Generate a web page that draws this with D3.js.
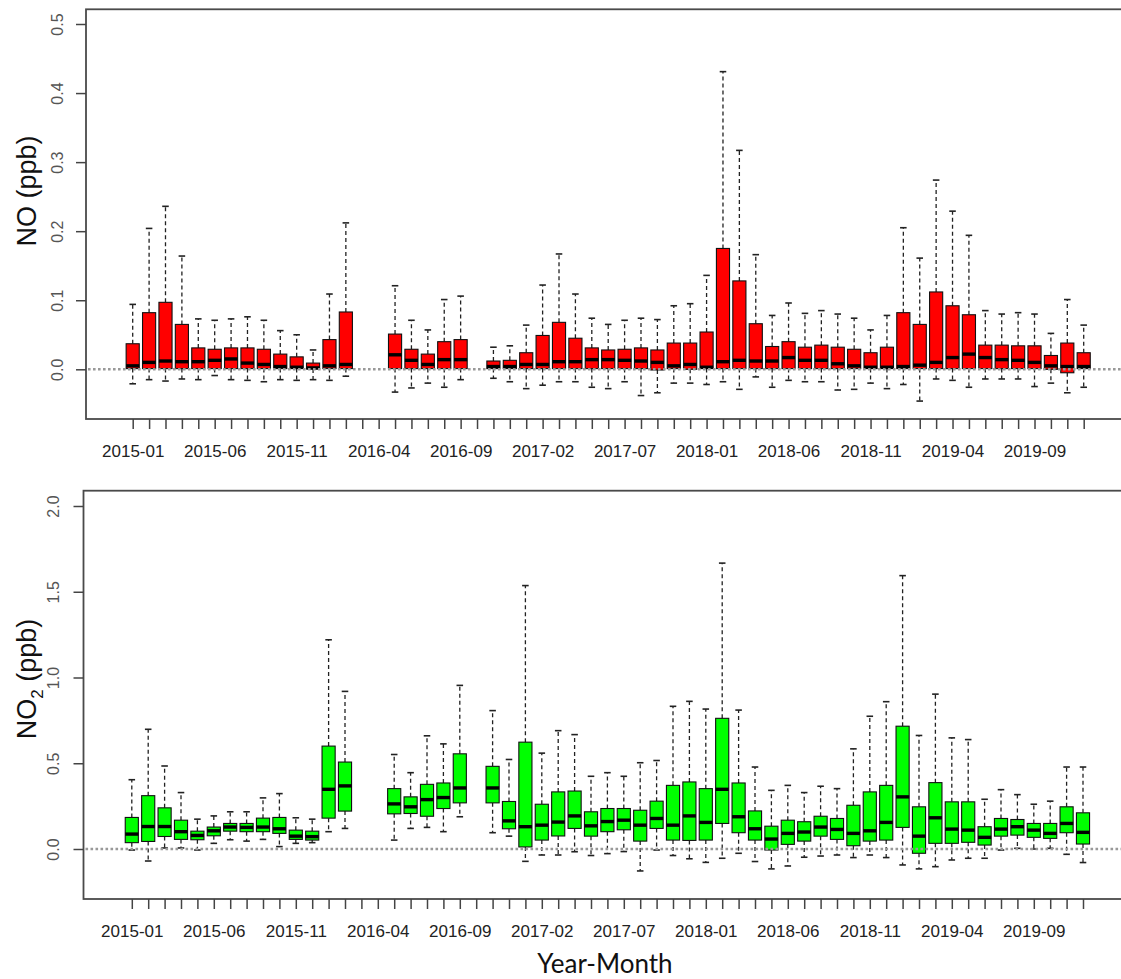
<!DOCTYPE html>
<html>
<head>
<meta charset="utf-8">
<script src="https://cdn.jsdelivr.net/npm/d3@7"></script>
<style>
  body { margin: 0; background: #fff; }
  svg { display: block; }
</style>
</head>
<body>
<div id="chart"></div>
<script>
// months on the x axis (2017-12 has no slot in the original)
const months = [
  '2015-01','2015-02','2015-03','2015-04','2015-05','2015-06','2015-07','2015-08','2015-09','2015-10','2015-11','2015-12',
  '2016-01','2016-02','2016-03','2016-04','2016-05','2016-06','2016-07','2016-08','2016-09','2016-10','2016-11','2016-12',
  '2017-01','2017-02','2017-03','2017-04','2017-05','2017-06','2017-07','2017-08','2017-09','2017-10','2017-11',
  '2018-01','2018-02','2018-03','2018-04','2018-05','2018-06','2018-07','2018-08','2018-09','2018-10','2018-11','2018-12',
  '2019-01','2019-02','2019-03','2019-04','2019-05','2019-06','2019-07','2019-08','2019-09','2019-10','2019-11','2019-12'
];
const labelEvery = 5;

// NO (ppb) box statistics, null = no data that month
const noMax = [0.094,0.204,0.236,0.164,0.073,0.071,0.073,0.076,0.071,0.056,0.050,0.028,0.109,0.212,null,null,0.121,0.071,0.057,0.101,0.106,null,0.032,0.034,0.064,0.122,0.167,0.109,0.074,0.065,0.071,0.074,0.072,0.092,0.095,0.136,0.431,0.317,0.166,0.078,0.096,0.081,0.085,0.080,0.074,0.057,0.078,0.205,0.161,0.274,0.229,0.194,0.085,0.080,0.082,0.080,0.052,0.101,0.064];
const noQ3  = [0.037,0.082,0.097,0.065,0.031,0.029,0.031,0.031,0.029,0.022,0.018,0.009,0.043,0.083,null,null,0.051,0.029,0.022,0.040,0.043,null,0.012,0.013,0.024,0.049,0.068,0.045,0.031,0.028,0.029,0.031,0.028,0.038,0.038,0.054,0.175,0.128,0.066,0.033,0.040,0.032,0.035,0.032,0.029,0.024,0.032,0.082,0.065,0.112,0.092,0.079,0.035,0.035,0.034,0.034,0.020,0.038,0.024];
const noMed = [0.005,0.010,0.012,0.011,0.011,0.013,0.015,0.009,0.007,0.004,0.003,0.002,0.005,0.007,null,null,0.021,0.013,0.007,0.014,0.014,null,0.004,0.004,0.007,0.007,0.011,0.011,0.014,0.014,0.013,0.012,0.010,0.005,0.007,0.003,0.011,0.013,0.012,0.012,0.017,0.013,0.013,0.008,0.005,0.003,0.003,0.004,0.006,0.010,0.017,0.022,0.017,0.014,0.013,0.010,0.005,0.004,0.004];
const noQ1  = [0.001,0.001,0.001,0.001,0.001,0.001,0.001,0.001,0.001,0.001,0.001,0.0005,0.001,0.001,null,null,0.001,0.001,0.001,0.001,0.001,null,0.001,0.001,0.001,0.001,0.001,0.001,0.001,0.001,0.001,0.001,-0.001,0.001,0.000,0.001,0.001,0.001,0.001,0.001,0.001,0.001,0.001,0.001,0.001,0.001,0.001,0.001,0.001,0.001,0.001,0.001,0.001,0.001,0.001,0.001,0.000,-0.005,0.001];
const noMin = [-0.021,-0.015,-0.017,-0.014,-0.015,-0.009,-0.015,-0.016,-0.018,-0.015,-0.016,-0.015,-0.016,-0.010,null,null,-0.033,-0.027,-0.020,-0.026,-0.015,null,-0.013,-0.018,-0.028,-0.023,-0.018,-0.018,-0.026,-0.028,-0.018,-0.038,-0.034,-0.020,-0.020,-0.022,-0.018,-0.029,-0.011,-0.026,-0.016,-0.018,-0.018,-0.030,-0.029,-0.020,-0.028,-0.022,-0.046,-0.014,-0.016,-0.026,-0.014,-0.014,-0.014,-0.025,-0.020,-0.034,-0.026];

// NO2 (ppb) box statistics
const no2Max = [0.404,0.698,0.484,0.329,0.174,0.193,0.217,0.217,0.298,0.323,0.182,0.174,1.220,0.919,null,null,0.551,0.445,0.660,0.613,0.954,null,0.807,0.522,1.536,0.559,0.690,0.667,0.424,0.445,0.424,0.503,0.516,0.832,0.861,0.816,1.667,0.810,0.478,0.342,0.371,0.329,0.366,0.352,0.584,0.774,0.859,1.594,0.662,0.903,0.648,0.638,0.290,0.346,0.317,0.261,0.279,0.478,0.478];
const no2Q3  = [0.184,0.311,0.240,0.168,0.104,0.128,0.149,0.149,0.180,0.184,0.110,0.104,0.600,0.507,null,null,0.352,0.304,0.377,0.385,0.555,null,0.482,0.277,0.623,0.261,0.333,0.338,0.217,0.236,0.236,0.226,0.279,0.371,0.391,0.352,0.762,0.385,0.222,0.133,0.168,0.159,0.191,0.178,0.255,0.333,0.371,0.716,0.246,0.387,0.275,0.275,0.130,0.178,0.172,0.149,0.149,0.246,0.211];
const no2Med = [0.087,0.131,0.131,0.101,0.079,0.106,0.128,0.126,0.128,0.118,0.075,0.072,0.348,0.368,null,null,0.263,0.246,0.288,0.300,0.356,null,0.356,0.164,0.130,0.139,0.157,0.193,0.135,0.160,0.168,0.139,0.178,0.139,0.193,0.155,0.348,0.188,0.118,0.058,0.091,0.099,0.128,0.114,0.091,0.106,0.155,0.304,0.075,0.182,0.116,0.110,0.068,0.116,0.130,0.110,0.091,0.149,0.097];
const no2Q1  = [0.037,0.044,0.073,0.056,0.054,0.077,0.104,0.101,0.101,0.091,0.056,0.052,0.180,0.221,null,null,0.205,0.207,0.191,0.236,0.269,null,0.269,0.118,0.012,0.052,0.076,0.120,0.075,0.101,0.112,0.046,0.120,0.052,0.050,0.052,0.149,0.095,0.052,-0.006,0.027,0.046,0.075,0.056,0.019,0.046,0.052,0.126,-0.025,0.033,0.033,0.039,0.023,0.075,0.081,0.068,0.062,0.095,0.029];
const no2Min = [-0.006,-0.070,0.006,0.006,-0.006,0.033,0.054,0.046,0.056,0.014,0.033,0.037,0.101,0.120,null,null,0.052,0.120,0.126,0.101,0.188,null,0.095,0.075,-0.072,-0.035,-0.035,-0.016,-0.038,-0.027,-0.015,-0.128,-0.006,-0.038,-0.057,-0.078,-0.054,-0.025,-0.073,-0.116,-0.099,-0.048,-0.041,-0.035,-0.050,-0.035,-0.050,-0.093,-0.116,-0.103,-0.064,-0.054,-0.054,-0.006,0.004,0.000,0.004,-0.031,-0.079];

const noTicks = [0, 0.1, 0.2, 0.3, 0.4, 0.5];
const no2Ticks = [0, 0.5, 1.0, 1.5, 2.0];

const W = 1121, H = 979;
const svg = d3.select('#chart').append('svg')
  .attr('width', W)
  .attr('height', H);

function drawPanel(p) {
  const g = svg.append('g');
  const x = d3.scalePoint().domain(months).range(p.xRange);
  const y = d3.scaleLinear().domain(p.yDomain).range(p.yRange);
  const boxW = x.step() * 0.8;
  const capW = boxW * 0.5;

  const rows = months.map((m, i) => ({
    m, lo: p.min[i], q1: p.q1[i], med: p.med[i], q3: p.q3[i], hi: p.max[i]
  })).filter(d => d.med !== null);

  // plot frame
  g.append('rect')
    .attr('x', p.frame.left)
    .attr('y', p.frame.top)
    .attr('width', p.frame.right - p.frame.left)
    .attr('height', p.frame.bottom - p.frame.top)
    .attr('fill', 'none')
    .attr('stroke', '#4a4a4a')
    .attr('stroke-width', 1.8);

  const boxes = g.selectAll('.box')
    .data(rows)
    .join('g')
    .attr('class', 'box')
    .attr('transform', d => `translate(${x(d.m)},0)`);

  // whiskers
  boxes.append('line')
    .attr('y1', d => y(d.q3)).attr('y2', d => y(d.hi))
    .attr('stroke', '#222').attr('stroke-width', 1.3)
    .attr('stroke-dasharray', '4,3');
  boxes.append('line')
    .attr('y1', d => y(d.q1)).attr('y2', d => y(d.lo))
    .attr('stroke', '#222').attr('stroke-width', 1.3)
    .attr('stroke-dasharray', '4,3');

  // caps
  boxes.append('line')
    .attr('x1', -capW / 2).attr('x2', capW / 2)
    .attr('y1', d => y(d.hi)).attr('y2', d => y(d.hi))
    .attr('stroke', '#222').attr('stroke-width', 1.6);
  boxes.append('line')
    .attr('x1', -capW / 2).attr('x2', capW / 2)
    .attr('y1', d => y(d.lo)).attr('y2', d => y(d.lo))
    .attr('stroke', '#222').attr('stroke-width', 1.6);

  // box
  boxes.append('rect')
    .attr('x', -boxW / 2)
    .attr('width', boxW)
    .attr('y', d => y(d.q3))
    .attr('height', d => Math.max(1, y(d.q1) - y(d.q3)))
    .attr('fill', p.fill)
    .attr('stroke', '#111')
    .attr('stroke-width', 1.1);

  // median
  boxes.append('line')
    .attr('x1', -boxW / 2).attr('x2', boxW / 2)
    .attr('y1', d => y(d.med)).attr('y2', d => y(d.med))
    .attr('stroke', '#000').attr('stroke-width', 3.4);

  // zero reference line
  g.append('line')
    .attr('x1', p.frame.left + 2).attr('x2', W)
    .attr('y1', y(0)).attr('y2', y(0))
    .attr('stroke', '#999')
    .attr('stroke-width', 2.6)
    .attr('stroke-dasharray', '2.6,2.4');

  // x axis
  const xAxis = g.append('g')
    .attr('transform', `translate(0,${p.frame.bottom})`)
    .call(d3.axisBottom(x)
      .tickSize(10)
      .tickFormat((d, i) => i % labelEvery === 0 ? d : ''));
  xAxis.select('.domain').remove();
  xAxis.selectAll('line').attr('stroke', '#444').attr('stroke-width', 1.5);
  xAxis.selectAll('text')
    .attr('y', 37.7).attr('dy', 0)
    .attr('fill', '#222')
    .style('font-family', '"Liberation Sans", Arial, sans-serif')
    .style('font-size', '17px');

  // y axis
  const yAxis = g.append('g')
    .attr('transform', `translate(${p.frame.left},0)`)
    .call(d3.axisLeft(y)
      .tickValues(p.ticks)
      .tickSize(10)
      .tickFormat(d3.format('.1f')));
  yAxis.select('.domain').remove();
  yAxis.selectAll('line').attr('stroke', '#444').attr('stroke-width', 1.5);
  yAxis.selectAll('text')
    .attr('x', 0).attr('y', 0).attr('dy', 0)
    .attr('transform', `translate(${p.tickLabelOffset},0) rotate(-90)`)
    .attr('text-anchor', 'middle')
    .attr('fill', '#555')
    .style('font-family', '"Liberation Sans", Arial, sans-serif')
    .style('font-size', '16px');

  // y title
  const title = g.append('text')
    .attr('transform', `translate(${p.titleX},${p.titleY}) rotate(-90)`)
    .attr('text-anchor', 'middle')
    .attr('fill', '#111')
    .style('font-family', '"Liberation Sans", Arial, sans-serif')
    .style('font-size', '27px');
  title.append('tspan').text(p.title[0]);
  if (p.title.length > 2) {
    title.append('tspan').attr('font-size', '17px').attr('dy', 7).text(p.title[1]);
    title.append('tspan').attr('dy', -7).text(p.title[2]);
  } else {
    title.append('tspan').text(p.title[1]);
  }
}

drawPanel({
  frame: { left: 86, top: 9.3, right: 1135, bottom: 419 },
  xRange: [132.7, 1083.7],
  yDomain: [0, 0.5],
  yRange: [369.3, 24],
  ticks: noTicks,
  min: noMin, q1: noQ1, med: noMed, q3: noQ3, max: noMax,
  fill: '#ff0000',
  tickLabelOffset: -23.5,
  title: ['NO', ' (ppb)'],
  titleX: 35.5, titleY: 191
});

drawPanel({
  frame: { left: 83.5, top: 490.7, right: 1135, bottom: 899 },
  xRange: [131.8, 1083],
  yDomain: [0, 2],
  yRange: [849, 506],
  ticks: no2Ticks,
  min: no2Min, q1: no2Q1, med: no2Med, q3: no2Q3, max: no2Max,
  fill: '#00ff00',
  tickLabelOffset: -25,
  title: ['NO', '2', ' (ppb)'],
  titleX: 35.5, titleY: 679
});

// shared x title
svg.append('text')
  .attr('x', 605)
  .attr('y', 973)
  .attr('text-anchor', 'middle')
  .attr('fill', '#111')
  .style('font-family', 'Lato, "Open Sans", sans-serif')
  .style('font-size', '26px')
  .text('Year-Month');
</script>
</body>
</html>
